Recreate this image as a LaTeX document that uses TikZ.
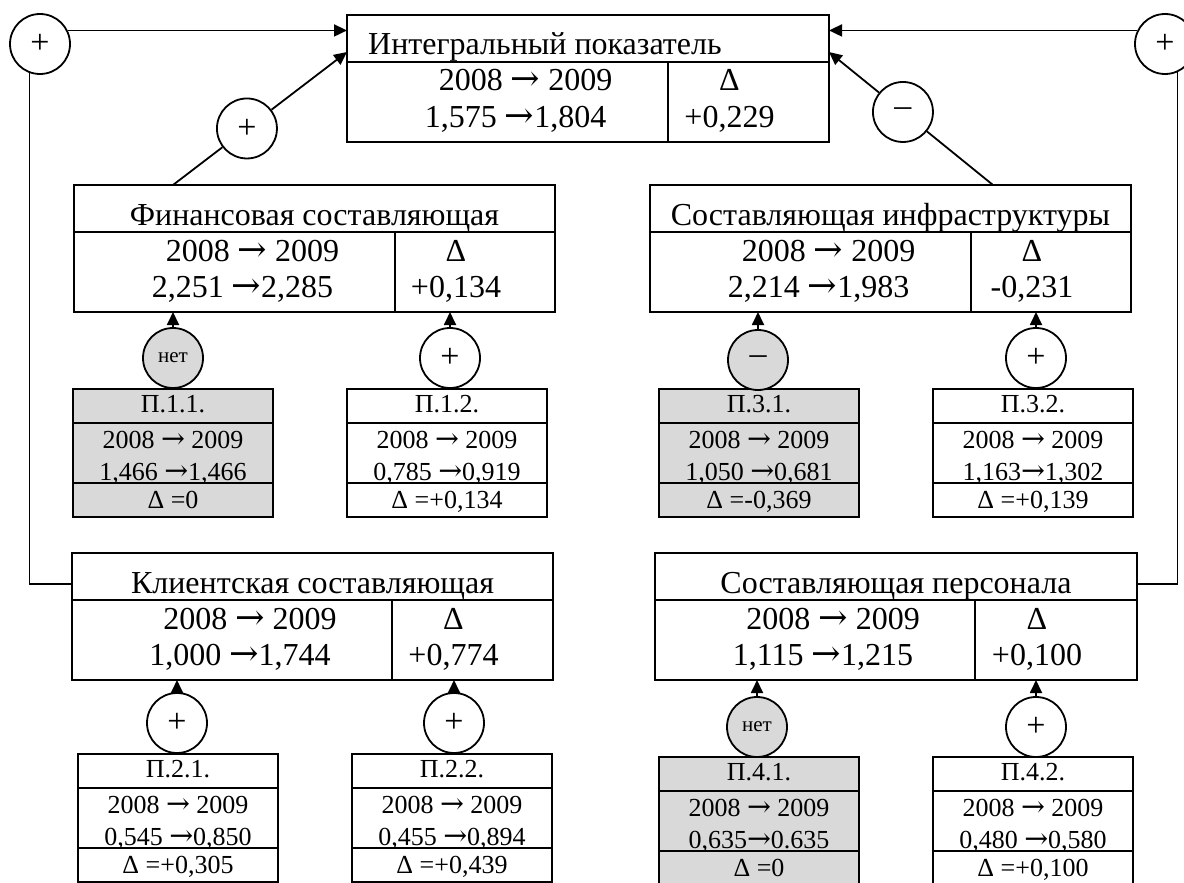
\documentclass[tikz,border=0pt]{standalone}
\usepackage{fontspec}
\setmainfont{Liberation Serif}
\newfontfamily\arrfont[Scale=1.1]{DejaVu Serif}
\usetikzlibrary{calc,arrows.meta}
\definecolor{boxgray}{RGB}{217,217,217}
\newcommand{\ra}{{\arrfont →}}
\tikzset{
  bigbox/.style={draw, line width=1.8pt, minimum height=127pt, inner sep=0pt, outer sep=0pt},
  smallbox/.style={draw, line width=1.8pt, minimum width=200pt, minimum height=128pt, inner sep=0pt, outer sep=0pt},
  divline/.style={line width=1.4pt},
  sign/.style={circle, draw, line width=1.8pt, minimum size=60pt, inner sep=0pt, fill=white, font=\fontsize{34}{36}\selectfont},
  netsign/.style={sign, fill=boxgray, font=\fontsize{21}{23}\selectfont},
  bigtxt/.style={font=\fontsize{32}{36}\selectfont, anchor=base, inner sep=0pt},
  smalltxt/.style={font=\fontsize{26}{30}\selectfont, anchor=base, inner sep=0pt},
  conn/.style={line width=1.8pt},
  arr/.style={line width=1.8pt, -{Triangle[length=13pt,width=12pt]}},
}
\newcommand{\BigBox}[7]{%
  \node[bigbox, minimum width=#4pt, anchor=north west] (#1) at (#2,#3) {};
  \draw[divline] ($(#1.north west)+(0,47)$) -- ($(#1.north east)+(0,47)$);
  \draw[divline] ($(#1.north west)+(#5,47)$) -- ($(#1.south west)+(#5,0)$);
  \node[bigtxt] (#1a) at ($(#1.north west)+({#5/2+18},76)$) {2008 \ra{} 2009};
  \node[bigtxt] (#1b) at ($(#1.north west)+({#5/2+8},112)$) {#6};
  \node[bigtxt] (#1c) at ($(#1.north west)+({(#5+#4)/2-19},76)$) {Δ};
  \node[bigtxt] (#1d) at ($(#1.north west)+({(#5+#4)/2-19},112)$) {#7};
}
\newcommand{\SmallBox}[7]{%
  \node[smallbox, fill=#4, anchor=north west] (#1) at (#2,#3) {};
  \draw[divline] ($(#1.north west)+(0,34)$) -- ($(#1.north east)+(0,34)$);
  \draw[divline] ($(#1.north west)+(0,94)$) -- ($(#1.north east)+(0,94)$);
  \node[smalltxt] (#1t) at ($(#1.north)+(0,23)$) {#5};
  \node[smalltxt] (#1a) at ($(#1.north)+(0,59)$) {2008 \ra{} 2009};
  \node[smalltxt] (#1b) at ($(#1.north)+(0,91)$) {#6};
  \node[smalltxt] (#1d) at ($(#1.north)+(0,119)$) {#7};
}
\begin{document}
\begin{tikzpicture}[x=1pt,y=-1pt]
\path[fill=white, use as bounding box] (0,0) rectangle (1184,883);

% big boxes
\BigBox{main}{347}{15}{482}{321}{1,575 \ra1,804}{+0,229}
\node[bigtxt, anchor=base west] (maint) at (368,55) {Интегральный показатель};
\BigBox{fin}{74}{185}{481}{321}{2,251 \ra2,285}{+0,134}
\node[bigtxt] (fint) at ($(fin.north)+(0,40)$) {Финансовая составляющая};
\BigBox{infra}{650}{185}{481}{321}{2,214 \ra1,983}{-0,231}
\node[bigtxt] (infrat) at ($(infra.north)+(0,40)$) {Составляющая инфраструктуры};
\BigBox{client}{72}{553}{481}{320}{1,000 \ra1,744}{+0,774}
\node[bigtxt] (clientt) at ($(client.north)+(0,40)$) {Клиентская составляющая};
\BigBox{pers}{655}{553}{482}{320}{1,115 \ra1,215}{+0,100}
\node[bigtxt] (perst) at ($(pers.north)+(0,40)$) {Составляющая персонала};

% small boxes
\SmallBox{p11}{73}{389}{boxgray}{П.1.1.}{1,466 \ra1,466}{Δ =0}
\SmallBox{p12}{347}{389}{white}{П.1.2.}{0,785 \ra0,919}{Δ =+0,134}
\SmallBox{p31}{659}{389}{boxgray}{П.3.1.}{1,050 \ra0,681}{Δ =-0,369}
\SmallBox{p32}{933}{389}{white}{П.3.2.}{1,163\ra1,302}{Δ =+0,139}
\SmallBox{p21}{78}{754}{white}{П.2.1.}{0,545 \ra0,850}{Δ =+0,305}
\SmallBox{p22}{352}{754}{white}{П.2.2.}{0,455 \ra0,894}{Δ =+0,439}
\SmallBox{p41}{659}{757}{boxgray}{П.4.1.}{0,635\ra0.635}{Δ =0}
\SmallBox{p42}{933}{757}{white}{П.4.2.}{0,480 \ra0,580}{Δ =+0,100}

% top side circles and loops
\node[sign] (cTL) at (40,44) {+};
\node[sign] (cTR) at (1165,44) {+};
\draw[arr] (cTL.26) -- (cTL.26 -| main.west);
\draw[arr] (cTR.154) -- (cTR.154 -| main.east);
\coordinate (clientIn) at ($(client.north west)+(0,31)$);
\coordinate (persIn) at ($(pers.north east)+(0,31)$);
\draw[conn] (cTL.250) |- (clientIn);
\draw[conn] (cTR.294) |- (persIn);

% diagonal links
\coordinate (finTop) at ($(fin.north west)+(99,0)$);
\coordinate (mainL) at ($(main.north west)+(0,37)$);
\coordinate (infraTop) at ($(infra.north west)+(343,0)$);
\coordinate (mainR) at ($(main.north east)+(0,37)$);
\node[sign] (c1) at ($(finTop)!0.425!(mainL)$) {+};
\node[sign] (c2) at ($(infraTop)!0.549!(mainR)$) {–};
\draw[conn] (finTop) -- (c1);
\draw[arr] (c1) -- (mainL);
\draw[conn] (infraTop) -- (c2);
\draw[arr] (c2) -- (mainR);

% bottom signs
\node[netsign] (s11) at (173,358) {нет};
\node[sign] (s12) at (450,358) {+};
\node[sign, fill=boxgray] (s31) at (758,360) {–};
\node[sign] (s32) at (1036,358) {+};
\node[sign] (s21) at (177,723) {+};
\node[sign] (s22) at (454,723) {+};
\node[netsign] (s41) at (757,727) {нет};
\node[sign] (s42) at (1036,727) {+};

\draw[arr] (s11.north) -- (s11.north |- fin.south);
\draw[arr] (s12.north) -- (s12.north |- fin.south);
\draw[arr] (s31.north) -- (s31.north |- infra.south);
\draw[arr] (s32.north) -- (s32.north |- infra.south);
\draw[arr] (s21.north) -- (s21.north |- client.south);
\draw[arr] (s22.north) -- (s22.north |- client.south);
\draw[arr] (s41.north) -- (s41.north |- pers.south);
\draw[arr] (s42.north) -- (s42.north |- pers.south);
\end{tikzpicture}
\end{document}
